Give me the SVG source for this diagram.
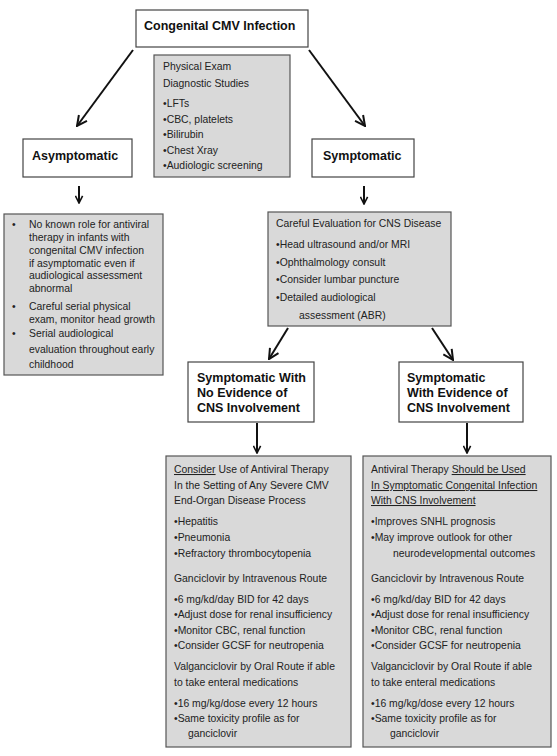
<svg xmlns="http://www.w3.org/2000/svg" width="557" height="756" viewBox="0 0 557 756">
<defs>
<style>
.wb{fill:#fff;stroke:#444;stroke-width:1.2}
.gb{fill:#d9d9d9;stroke:#555;stroke-width:1.2}
.t{font-family:"Liberation Sans",Arial,sans-serif;font-size:10.4px;fill:#222}
.h{font-family:"Liberation Sans",Arial,sans-serif;font-size:12.5px;font-weight:bold;fill:#111}
.c{stroke:#111;stroke-width:2;fill:none}
.u{text-decoration:underline}
</style>
<marker id="ah" markerUnits="userSpaceOnUse" viewBox="0 0 12 12" markerWidth="12" markerHeight="12" refX="11" refY="6" orient="auto">
<path d="M1,1 L11,6 L1,11" fill="none" stroke="#111" stroke-width="2"/>
</marker>
<marker id="as" markerUnits="userSpaceOnUse" viewBox="0 0 10 10" markerWidth="9" markerHeight="9" refX="9" refY="5" orient="auto">
<path d="M1,1 L9,5 L1,9" fill="none" stroke="#111" stroke-width="1.8"/>
</marker>
</defs>
<rect width="557" height="756" fill="#fff"/>

<g id="connectors">
<line class="c" x1="133" y1="50" x2="77" y2="126" marker-end="url(#ah)"/>
<line class="c" x1="309" y1="50" x2="365" y2="126" marker-end="url(#ah)"/>
<line class="c" x1="79" y1="186" x2="79" y2="203" marker-end="url(#as)"/>
<line class="c" x1="364" y1="186" x2="364" y2="204" marker-end="url(#as)"/>
<line class="c" x1="288" y1="328" x2="269" y2="359" marker-end="url(#ah)"/>
<line class="c" x1="432" y1="328" x2="453" y2="360" marker-end="url(#ah)"/>
<line class="c" x1="257" y1="423" x2="257" y2="453" marker-end="url(#as)"/>
<line class="c" x1="467" y1="423" x2="467" y2="453" marker-end="url(#as)"/>
</g>

<g id="congenital">
<rect class="wb" x="136" y="10" width="172" height="37"/>
<text class="h" x="144" y="30">Congenital CMV Infection</text>
</g>

<g id="workup">
<rect class="gb" x="154" y="55" width="136" height="122"/>
<text class="t" x="163" y="69.5">Physical Exam</text>
<text class="t" x="163" y="87">Diagnostic Studies</text>
<text class="t" x="163" y="107">•LFTs</text>
<text class="t" x="163" y="123">•CBC, platelets</text>
<text class="t" x="163" y="138">•Bilirubin</text>
<text class="t" x="163" y="153.5">•Chest Xray</text>
<text class="t" x="163" y="169">•Audiologic screening</text>
</g>

<g id="asymptomatic">
<rect class="wb" x="23" y="139" width="109" height="38"/>
<text class="h" x="32" y="160">Asymptomatic</text>
</g>

<g id="symptomatic">
<rect class="wb" x="312" y="139" width="102" height="38"/>
<text class="h" x="323" y="160">Symptomatic</text>
</g>

<g id="asym-care">
<rect class="gb" x="4" y="214" width="159" height="161"/>
<text class="t" x="12" y="228">•</text>
<text class="t" x="29" y="228">No known role for antiviral</text>
<text class="t" x="29" y="241">therapy in infants with</text>
<text class="t" x="29" y="254">congenital CMV infection</text>
<text class="t" x="29" y="267">if asymptomatic even if</text>
<text class="t" x="29" y="279">audiological assessment</text>
<text class="t" x="29" y="292">abnormal</text>
<text class="t" x="12" y="310">•</text>
<text class="t" x="29" y="310">Careful serial physical</text>
<text class="t" x="29" y="323">exam, monitor head growth</text>
<text class="t" x="12" y="337">•</text>
<text class="t" x="29" y="337">Serial audiological</text>
<text class="t" x="29" y="353">evaluation throughout early</text>
<text class="t" x="29" y="368">childhood</text>
</g>

<g id="cns-eval">
<rect class="gb" x="268" y="212" width="183" height="114"/>
<text class="t" x="276" y="227">Careful Evaluation for CNS Disease</text>
<text class="t" x="276" y="248">•Head ultrasound and/or MRI</text>
<text class="t" x="276" y="266">•Ophthalmology consult</text>
<text class="t" x="276" y="283">•Consider lumbar puncture</text>
<text class="t" x="276" y="301">•Detailed audiological</text>
<text class="t" x="299" y="319">assessment (ABR)</text>
</g>

<g id="symp-no-cns">
<rect class="wb" x="188" y="362" width="126" height="60"/>
<text class="h" x="197" y="382">Symptomatic With</text>
<text class="h" x="197" y="397">No Evidence of</text>
<text class="h" x="197" y="412">CNS Involvement</text>
</g>

<g id="symp-cns">
<rect class="wb" x="399" y="362" width="124" height="60"/>
<text class="h" x="407" y="382">Symptomatic</text>
<text class="h" x="407" y="397">With Evidence of</text>
<text class="h" x="407" y="412">CNS Involvement</text>
</g>

<g id="therapy-consider">
<rect class="gb" x="166" y="456" width="185" height="291"/>
<text class="t" x="174" y="473"><tspan class="u">Consider</tspan> Use of Antiviral Therapy</text>
<text class="t" x="174" y="489">In the Setting of Any Severe CMV</text>
<text class="t" x="174" y="504">End-Organ Disease Process</text>
<text class="t" x="174" y="525">•Hepatitis</text>
<text class="t" x="174" y="541">•Pneumonia</text>
<text class="t" x="174" y="557">•Refractory thrombocytopenia</text>
<text class="t" x="174" y="582">Ganciclovir by Intravenous Route</text>
<text class="t" x="174" y="603">•6 mg/kd/day BID for 42 days</text>
<text class="t" x="174" y="618">•Adjust dose for renal insufficiency</text>
<text class="t" x="174" y="634">•Monitor CBC, renal function</text>
<text class="t" x="174" y="649">•Consider GCSF for neutropenia</text>
<text class="t" x="174" y="670">Valganciclovir by Oral Route if able</text>
<text class="t" x="174" y="686">to take enteral medications</text>
<text class="t" x="174" y="707">•16 mg/kg/dose every 12 hours</text>
<text class="t" x="174" y="722">•Same toxicity profile as for</text>
<text class="t" x="188" y="737">ganciclovir</text>
</g>

<g id="therapy-use">
<rect class="gb" x="363" y="456" width="188" height="291"/>
<text class="t" x="371" y="473">Antiviral Therapy <tspan class="u">Should be Used</tspan></text>
<text class="t u" x="371" y="489">In Symptomatic Congenital Infection</text>
<text class="t u" x="371" y="504">With CNS Involvement</text>
<text class="t" x="371" y="525">•Improves SNHL prognosis</text>
<text class="t" x="371" y="541">•May improve outlook for other</text>
<text class="t" x="393" y="557">neurodevelopmental outcomes</text>
<text class="t" x="371" y="582">Ganciclovir by Intravenous Route</text>
<text class="t" x="371" y="603">•6 mg/kd/day BID for 42 days</text>
<text class="t" x="371" y="618">•Adjust dose for renal insufficiency</text>
<text class="t" x="371" y="634">•Monitor CBC, renal function</text>
<text class="t" x="371" y="649">•Consider GCSF for neutropenia</text>
<text class="t" x="371" y="670">Valganciclovir by Oral Route if able</text>
<text class="t" x="371" y="686">to take enteral medications</text>
<text class="t" x="371" y="707">•16 mg/kg/dose every 12 hours</text>
<text class="t" x="371" y="722">•Same toxicity profile as for</text>
<text class="t" x="390" y="737">ganciclovir</text>
</g>
</svg>
